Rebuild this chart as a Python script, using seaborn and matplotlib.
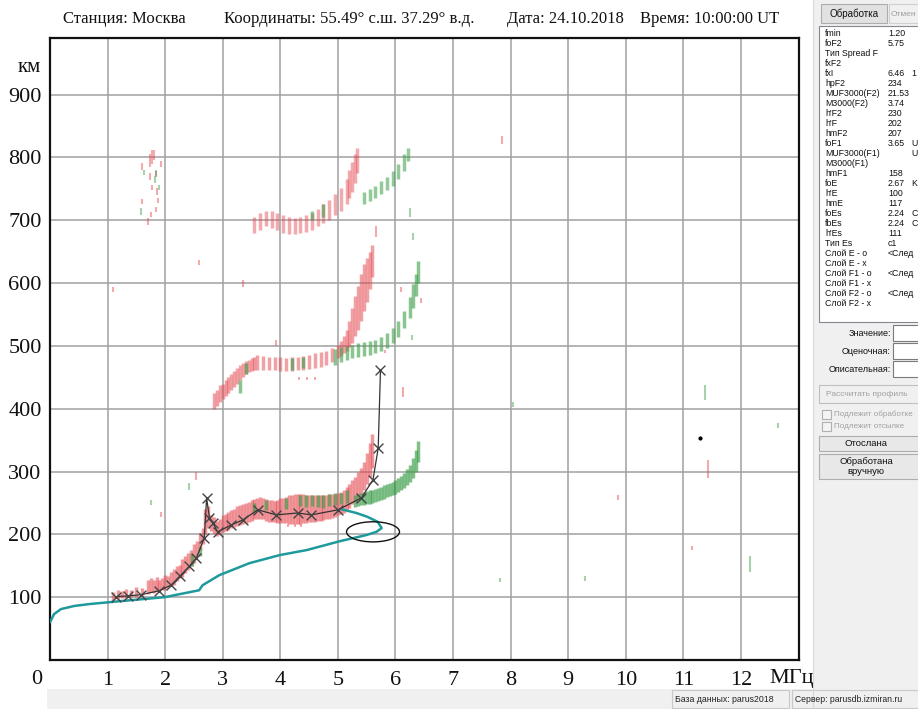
import matplotlib
matplotlib.use('Agg')
import matplotlib.pyplot as plt
import seaborn as sns
import pandas as pd
from matplotlib.patches import Ellipse, Rectangle

# ---------------- data ----------------
x_ticks = list(range(1, 13))
y_ticks = [100, 200, 300, 400, 500, 600, 700, 800, 900]

# real-height profile (teal)
prof_f = [0.0, 0.07, 0.19, 0.42, 0.68, 1.26, 1.99, 2.59, 2.65, 2.94, 3.46, 3.99, 4.46, 5.03, 5.50, 5.67, 5.76, 5.69, 5.51, 5.32, 5.06]
prof_h = [60, 73, 81, 86, 89, 94, 100, 111, 119, 135, 154, 167, 175, 189, 199, 204, 210, 220, 228, 234, 240]

# scaled O-trace (black with x markers)
scl_f = [1.15, 1.35, 1.58, 1.89, 2.10, 2.25, 2.42, 2.54, 2.68, 2.72, 2.77, 2.83, 2.91, 3.15, 3.35, 3.61, 3.93, 4.30, 4.54, 5.00, 5.41, 5.61, 5.70, 5.74]
scl_h = [101, 102, 104, 110, 119, 133, 149, 162, 194, 258, 226, 218, 204, 215, 223, 239, 231, 234, 231, 239, 258, 287, 337, 462]

# first hop, O mode (red)
o1_f = [1.10, 1.18, 1.25, 1.32, 1.40, 1.50, 1.60, 1.70, 1.75, 1.80, 1.85, 1.90, 1.95, 2.00, 2.05, 2.10, 2.15, 2.20, 2.25, 2.30,
        2.35, 2.40, 2.45, 2.50, 2.55, 2.60, 2.65, 2.70, 2.75, 2.80, 2.85, 2.90, 2.95, 3.00, 3.05, 3.10, 3.15, 3.20, 3.25, 3.30,
        3.35, 3.40, 3.45, 3.50, 3.55, 3.60, 3.65, 3.70, 3.75, 3.80, 3.85, 3.90, 3.95, 4.00, 4.05, 4.10, 4.15, 4.20, 4.25, 4.30,
        4.35, 4.40, 4.45, 4.50, 4.55, 4.60, 4.65, 4.70, 4.75, 4.80, 4.85, 4.90, 4.95, 5.00, 5.05, 5.10, 5.15, 5.20, 5.25, 5.30,
        5.35, 5.40, 5.45, 5.50, 5.55, 5.60]
o1_lo = [95, 97, 98, 99, 100, 101, 102, 105, 108, 106, 110, 108, 112, 112, 116, 118, 120, 125, 130, 132,
         138, 143, 150, 155, 165, 175, 185, 200, 210, 205, 200, 198, 200, 203, 205, 207, 210, 212, 213, 215,
         217, 218, 220, 222, 224, 225, 225, 224, 222, 220, 220, 219, 218, 218, 218, 218, 217, 217, 217, 217,
         217, 218, 218, 219, 219, 220, 221, 222, 223, 224, 225, 226, 228, 230, 232, 234, 238, 242, 248, 252,
         258, 262, 270, 280, 292, 305]
o1_hi = [108, 112, 110, 113, 112, 116, 115, 128, 130, 127, 132, 128, 130, 135, 133, 140, 145, 150, 152, 160,
         165, 170, 175, 185, 190, 200, 210, 240, 245, 230, 228, 222, 225, 230, 232, 235, 238, 240, 245, 246,
         248, 250, 252, 255, 256, 258, 260, 258, 257, 255, 255, 253, 255, 258, 258, 260, 262, 262, 264, 264,
         265, 265, 263, 262, 262, 262, 262, 262, 263, 263, 264, 265, 265, 266, 268, 270, 275, 280, 286, 292,
         300, 306, 315, 330, 345, 360]

# first hop, X mode (green)
x1_f = [2.47, 2.60, 3.55, 3.75, 4.10, 4.35, 4.45, 4.55, 4.65, 4.75, 4.85, 4.95, 5.05, 5.15,
        5.30, 5.35, 5.40, 5.45, 5.50, 5.55, 5.60, 5.65, 5.70, 5.75, 5.80, 5.85, 5.90, 5.95, 6.00, 6.05,
        6.10, 6.15, 6.20, 6.25, 6.30, 6.35, 6.40]
x1_lo = [150, 165, 235, 238, 240, 245, 243, 245, 244, 242, 245, 247, 248, 250,
         244, 245, 246, 247, 248, 249, 250, 252, 253, 255, 257, 259, 261, 263, 265, 267,
         270, 274, 278, 283, 290, 300, 315]
x1_hi = [168, 180, 250, 255, 258, 262, 262, 263, 262, 262, 264, 266, 266, 270,
         262, 264, 266, 268, 269, 270, 271, 272, 274, 276, 278, 280, 282, 284, 286, 289,
         293, 298, 304, 311, 322, 335, 348]

# second hop, O mode (red)
o2_f = [2.85, 2.90, 2.95, 3.00, 3.05, 3.10, 3.15, 3.20, 3.25, 3.30, 3.35, 3.40, 3.45, 3.50, 3.55, 3.60, 3.70, 3.80, 3.90, 4.00,
        4.10, 4.20, 4.30, 4.40, 4.50, 4.60, 4.70, 4.80, 4.90, 5.00, 5.05, 5.10, 5.15, 5.20, 5.25, 5.30, 5.35, 5.40, 5.45, 5.50,
        5.55, 5.60]
o2_lo = [400, 405, 410, 415, 420, 425, 430, 435, 440, 445, 450, 455, 458, 460, 462, 462, 462, 462, 461, 460,
         460, 460, 461, 462, 463, 465, 467, 470, 474, 480, 484, 488, 492, 498, 505, 515, 525, 540, 555, 570,
         590, 610]
o2_hi = [425, 430, 438, 440, 445, 450, 455, 460, 465, 470, 472, 476, 478, 480, 482, 485, 484, 483, 482, 482,
         481, 482, 483, 484, 486, 488, 490, 492, 496, 502, 508, 515, 525, 540, 560, 580, 595, 615, 630, 640,
         650, 660]

# second hop, X mode (green)
x2_f = [3.30, 3.40, 4.20, 4.40, 4.95, 5.05, 5.15, 5.25, 5.35, 5.45, 5.55, 5.65, 5.75, 5.85, 5.95, 6.05, 6.15, 6.25, 6.30, 6.35, 6.40]
x2_lo = [425, 455, 462, 464, 470, 475, 478, 480, 482, 484, 486, 488, 492, 497, 504, 514, 528, 545, 560, 580, 600]
x2_hi = [445, 472, 480, 482, 495, 498, 500, 502, 504, 506, 508, 510, 514, 520, 528, 540, 556, 578, 598, 615, 635]

# third hop, O mode (red)
o3_f = [3.55, 3.65, 3.75, 3.85, 3.95, 4.05, 4.15, 4.25, 4.35, 4.45, 4.55, 4.65, 4.75, 4.85, 4.95, 5.05, 5.15, 5.20, 5.25, 5.30, 5.33]
o3_lo = [680, 685, 690, 688, 685, 680, 678, 678, 680, 682, 685, 690, 695, 700, 708, 715, 725, 735, 745, 760, 775]
o3_hi = [705, 712, 715, 715, 712, 708, 705, 703, 705, 708, 712, 718, 725, 732, 742, 752, 765, 780, 792, 805, 815]

# third hop, X mode (green)
x3_f = [4.55, 4.75, 5.45, 5.55, 5.65, 5.75, 5.85, 5.95, 6.05, 6.15, 6.22]
x3_lo = [700, 705, 725, 730, 735, 742, 748, 755, 765, 778, 795]
x3_hi = [715, 725, 745, 750, 755, 762, 768, 778, 790, 805, 815]

# isolated echoes
sr_f = [1.60, 1.73, 1.77, 1.81, 1.92, 1.73, 1.84, 1.77, 1.85, 1.87, 1.60, 1.84, 1.75, 1.71, 2.59, 1.09, 3.35, 3.93, 5.67,
        6.10, 6.45, 6.13, 5.81, 4.33, 4.47, 4.60, 7.85, 1.93, 2.53, 4.13, 4.25, 4.36, 9.87, 11.43, 11.15]
sr_lo = [780, 785, 790, 796, 785, 764, 769, 748, 740, 728, 725, 713, 705, 693, 629, 586, 594, 500, 674,
         586, 568, 419, 489, 445, 445, 445, 822, 228, 287, 212, 212, 212, 255, 290, 175]
sr_hi = [791, 805, 812, 812, 795, 775, 778, 756, 752, 736, 733, 721, 713, 704, 637, 594, 605, 510, 690,
         594, 576, 435, 493, 450, 450, 450, 834, 236, 300, 217, 217, 217, 263, 318, 181]
sg_f = [1.64, 1.84, 1.90, 1.58, 1.83, 1.75, 2.42, 6.28, 6.25, 6.30, 8.04, 11.38, 12.16, 9.29, 7.82, 12.65]
sg_lo = [772, 770, 748, 708, 760, 246, 271, 510, 705, 669, 402, 414, 140, 126, 124, 370]
sg_hi = [780, 780, 756, 720, 770, 255, 282, 518, 720, 680, 410, 438, 166, 134, 130, 378]
dot_f = [11.29]
dot_h = [353]

# marked region (ellipse) around foF2 point
ell_f, ell_h, ell_w, ell_hh = 5.61, 204, 0.92, 32

header = ["Станция: Москва", "Координаты: 55.49° с.ш. 37.29° в.д.", "Дата: 24.10.2018", "Время: 10:00:00 UT"]
header_x = [63, 224, 507, 640]

panel_rows = [("fmin", "1.20", ""), ("foF2", "5.75", ""), ("Тип Spread F", "", ""), ("fxF2", "", ""),
              ("fxI", "6.46", "1"), ("hpF2", "234", ""), ("MUF3000(F2)", "21.53", ""), ("M3000(F2)", "3.74", ""),
              ("h'F2", "230", ""), ("h'F", "202", ""), ("hmF2", "207", ""), ("foF1", "3.65", "U"),
              ("MUF3000(F1)", "", "U"), ("M3000(F1)", "", ""), ("hmF1", "158", ""), ("foE", "2.67", "K"),
              ("h'E", "100", ""), ("hmE", "117", ""), ("foEs", "2.24", "C"), ("fbEs", "2.24", "C"),
              ("h'Es", "111", ""), ("Тип Es", "c1", ""), ("Слой E - o", "<След", ""), ("Слой E - x", "", ""),
              ("Слой F1 - o", "<След", ""), ("Слой F1 - x", "", ""), ("Слой F2 - o", "<След", ""), ("Слой F2 - x", "", "")]

# ---------------- figure ----------------
sns.set_theme(style='white')
plt.rcParams['font.family'] = ['Liberation Serif', 'DejaVu Serif']
W, H = 918, 709
fig = plt.figure(figsize=(W / 100, H / 100), dpi=100)
fig.patch.set_facecolor('white')

# pixel overlay for window chrome
ov = fig.add_axes([0, 0, 1, 1], zorder=0)
ov.set_xlim(0, W)
ov.set_ylim(H, 0)
ov.axis('off')

SANS = ['Liberation Sans', 'DejaVu Sans']
ov.add_patch(Rectangle((813, 0), W - 813, H, facecolor='#f0f0f0', edgecolor='none'))
ov.plot([813, 813], [0, H], color='#d8d8d8', lw=0.8)
ov.add_patch(Rectangle((47, 689), W - 47, 20, facecolor='#f0f0f0', edgecolor='none'))
ov.add_patch(Rectangle((672, 690), 117, 18, facecolor='#f0f0f0', edgecolor='#c8c8c8', lw=0.8))
ov.text(675, 699, "База данных: parus2018", family=SANS, fontsize=6.3, va='center', ha='left', color='#222')
ov.add_patch(Rectangle((792, 690), 130, 18, facecolor='#f0f0f0', edgecolor='#c8c8c8', lw=0.8))
ov.text(795, 699, "Сервер: parusdb.izmiran.ru", family=SANS, fontsize=6.2, va='center', ha='left', color='#222')

# panel buttons
ov.add_patch(Rectangle((821, 4), 66, 19, facecolor='#e1e1e1', edgecolor='#adadad', lw=0.8))
ov.text(854, 14, "Обработка", family=SANS, fontsize=7, ha='center', va='center', color='#111')
ov.add_patch(Rectangle((889, 4), 40, 19, facecolor='#f0f0f0', edgecolor='#d0d0d0', lw=0.8))
ov.text(890.5, 14, "Отмен", family=SANS, fontsize=6.0, ha='left', va='center', color='#a0a0a0')
ov.add_patch(Rectangle((819, 26), 110, 296, facecolor='white', edgecolor='#828790', lw=0.8))
for i, (nm, val, ex) in enumerate(panel_rows):
    yy = 33 + i * 10.0
    ov.text(825, yy, nm, family=SANS, fontsize=6.3, ha='left', va='center', color='#111')
    if val:
        ov.text(888, yy, val, family=SANS, fontsize=6.3, ha='left', va='center', color='#111')
    if ex:
        ov.text(911, yy, ex, family=SANS, fontsize=6.3, ha='left', va='center', color='#111')

for lab, yy in [("Значение:", 333), ("Оценочная:", 351), ("Описательная:", 369)]:
    ov.text(891, yy, lab, family=SANS, fontsize=6.5, ha='right', va='center', color='#111')
    ov.add_patch(Rectangle((893, yy - 8), 30, 16, facecolor='white', edgecolor='#7a7a7a', lw=0.8))
ov.add_patch(Rectangle((819, 385), 110, 18, facecolor='#f0f0f0', edgecolor='#bfbfbf', lw=0.8))
ov.text(826, 394, "Рассчитать профиль", family=SANS, fontsize=6.0, ha='left', va='center', color='#a0a0a0')
for lab, yy in [("Подлежит обработке", 414), ("Подлежит отсылке", 426)]:
    ov.add_patch(Rectangle((822, yy - 4.5), 9, 9, facecolor='#f4f4f4', edgecolor='#b0b0b0', lw=0.8))
    ov.text(834, yy, lab, family=SANS, fontsize=5.8, ha='left', va='center', color='#a0a0a0')
ov.add_patch(Rectangle((819, 436), 110, 15, facecolor='#e8e8e8', edgecolor='#adadad', lw=0.8))
ov.text(866, 443.5, "Отослана", family=SANS, fontsize=6.8, ha='center', va='center', color='#111')
ov.add_patch(Rectangle((819, 454), 110, 25, facecolor='#e8e8e8', edgecolor='#adadad', lw=0.8))
ov.text(866, 461, "Обработана", family=SANS, fontsize=6.8, ha='center', va='center', color='#111')
ov.text(866, 471, "вручную", family=SANS, fontsize=6.8, ha='center', va='center', color='#111')

# header and axis captions
for t, xx in zip(header, header_x):
    ov.text(xx, 19, t, fontsize=12, ha='left', va='center', color='#111')
ov.text(29, 68, "км", fontsize=15, ha='center', va='center', color='#111')
ov.text(37, 679, "0", fontsize=16, ha='center', va='center', color='#111')
ov.text(792, 679, "МГц", fontsize=16, ha='center', va='center', color='#111')

# ---------------- main ionogram axes ----------------
L, R, T, B = 50, 798.5, 38, 660
ax = fig.add_axes([L / W, 1 - B / H, (R - L) / W, (B - T) / H], zorder=1)
ax.set_facecolor('white')
ax.set_xlim(0, 13)
ax.set_ylim(0, 990)
ax.set_xticks(x_ticks)
ax.set_xticklabels([str(v) for v in x_ticks], fontsize=16)
ax.set_yticks(y_ticks)
ax.set_yticklabels([str(v) for v in y_ticks], fontsize=16)
ax.tick_params(axis='x', length=0, pad=8, colors='#111')
ax.tick_params(axis='y', length=0, pad=6, colors='#111')
ax.grid(True, color='#a0a0a0', lw=1.1)
ax.set_axisbelow(True)
for s in ax.spines.values():
    s.set_color('#111')
    s.set_linewidth(1.6)

RED = '#e5444c'
GRN = '#3c9e48'
dlw = 2.5
ax.vlines(o1_f, o1_lo, o1_hi, colors=RED, lw=dlw, alpha=0.55, zorder=2)
ax.vlines(x1_f, x1_lo, x1_hi, colors=GRN, lw=dlw, alpha=0.65, zorder=2)
ax.vlines(o2_f, o2_lo, o2_hi, colors=RED, lw=dlw, alpha=0.5, zorder=2)
ax.vlines(x2_f, x2_lo, x2_hi, colors=GRN, lw=dlw, alpha=0.6, zorder=2)
ax.vlines(o3_f, o3_lo, o3_hi, colors=RED, lw=dlw, alpha=0.45, zorder=2)
ax.vlines(x3_f, x3_lo, x3_hi, colors=GRN, lw=dlw, alpha=0.55, zorder=2)
ax.vlines(sr_f, sr_lo, sr_hi, colors=RED, lw=1.5, alpha=0.45, zorder=2)
ax.vlines(sg_f, sg_lo, sg_hi, colors=GRN, lw=1.5, alpha=0.45, zorder=2)

prof = pd.DataFrame({'f': prof_f, 'h': prof_h})
sns.lineplot(data=prof, x='f', y='h', sort=False, estimator=None, color='#1f9a9c', lw=1.8, ax=ax, zorder=4)
scl = pd.DataFrame({'f': scl_f, 'h': scl_h})
sns.lineplot(data=scl, x='f', y='h', sort=False, estimator=None, color='#333333', lw=0.9, ax=ax, zorder=5)
sns.scatterplot(data=scl, x='f', y='h', marker='x', s=50, color='#444444', linewidth=1.0, ax=ax, zorder=6)
ax.scatter(dot_f, dot_h, s=4, color='black', zorder=6)
ax.add_patch(Ellipse((ell_f, ell_h), ell_w, ell_hh, fill=False, edgecolor='#111', lw=1.0, zorder=6))
ax.set_xlabel('')
ax.set_ylabel('')

fig.savefig('out.png', dpi=100, facecolor='white')
